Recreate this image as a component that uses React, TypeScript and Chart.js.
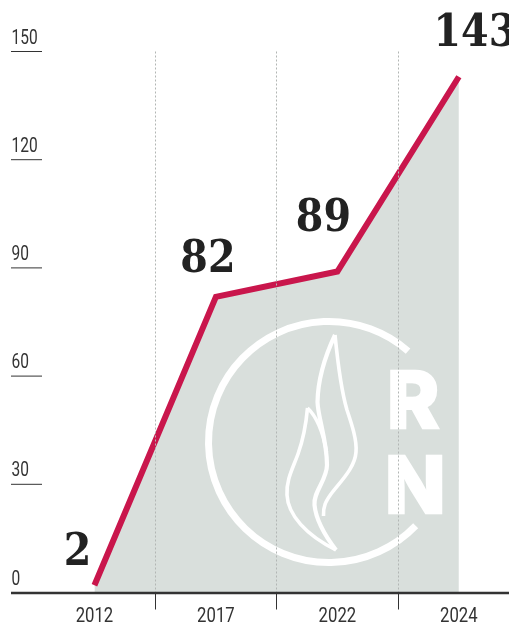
import React, { useEffect, useRef } from "react";
import { Chart, registerables } from "chart.js";

Chart.register(...registerables);

const years = ["2012", "2017", "2022", "2024"];
const seats = [2, 82, 89, 143];
const yTicks = [0, 30, 60, 90, 120, 150];

const INK = "#333333";
const labelShift = [
  [-17, -20],
  [-8, -25],
  [-14, -41],
  [16, -31],
];

const flame = (ctx: CanvasRenderingContext2D) => {
  ctx.strokeStyle = "#ffffff";
  ctx.fillStyle = "#ffffff";
  ctx.lineJoin = "miter";
  ctx.lineCap = "butt";
  ctx.lineWidth = 4.2;
  // tall flame
  ctx.beginPath();
  ctx.moveTo(335, 335);
  ctx.bezierCurveTo(327, 352, 318, 375, 317.5, 402);
  ctx.bezierCurveTo(318, 418, 327, 440, 327, 465);
  ctx.bezierCurveTo(327, 480, 313, 492, 314.5, 505);
  ctx.bezierCurveTo(316, 520, 326, 537, 336, 550);
  ctx.stroke();
  ctx.lineWidth = 3.6;
  ctx.beginPath();
  ctx.moveTo(335, 335);
  ctx.bezierCurveTo(338, 365, 341, 390, 347, 410);
  ctx.bezierCurveTo(352, 425, 357, 440, 356, 452);
  ctx.bezierCurveTo(355, 468, 340, 482, 331, 494);
  ctx.bezierCurveTo(326, 501, 323, 506, 323.5, 516);
  ctx.stroke();
  // small flame
  ctx.beginPath();
  ctx.moveTo(307.5, 408);
  ctx.bezierCurveTo(306, 425, 303, 440, 298, 454);
  ctx.bezierCurveTo(293, 468, 286, 480, 287, 495);
  ctx.bezierCurveTo(288, 515, 306, 535, 336, 550);
  ctx.stroke();
  ctx.beginPath();
  ctx.moveTo(307.5, 408);
  ctx.bezierCurveTo(316, 416, 323, 432, 326.5, 452);
  ctx.stroke();
  // circle
  ctx.lineWidth = 7;
  ctx.beginPath();
  ctx.arc(329, 442, 120.5, (44 * Math.PI) / 180, (311 * Math.PI) / 180);
  ctx.stroke();
  // letters
  ctx.font = "800 79px Inter";
  ctx.lineWidth = 2.4;
  ctx.textAlign = "left";
  ctx.textBaseline = "alphabetic";
  ctx.fillText("R", 387, 427.5);
  ctx.strokeText("R", 387, 427.5);
  ctx.fillText("N", 385, 512.5);
  ctx.strokeText("N", 385, 512.5);
};

const decor = {
  id: "decor",
  afterDatasetsDraw(chart: any) {
    const ctx = chart.ctx;
    ctx.save();
    flame(ctx);
    ctx.restore();
  },
  afterDraw(chart: any) {
    const ctx = chart.ctx;
    const y = chart.scales.y;
    const x = chart.scales.x;
    ctx.save();
    ctx.strokeStyle = INK;
    ctx.fillStyle = INK;
    ctx.textBaseline = "alphabetic";
    ctx.font = "400 20.4px Roboto";
    y.ticks.forEach((t: any) => {
      const py = y.getPixelForValue(t.value);
      ctx.beginPath();
      if (t.value === 0) {
        ctx.lineWidth = 2.6;
        ctx.moveTo(11, py + 0.5);
        ctx.lineTo(chart.width, py + 0.5);
      } else {
        ctx.lineWidth = 1;
        ctx.moveTo(11, py);
        ctx.lineTo(42, py);
      }
      ctx.stroke();
      ctx.save();
      ctx.translate(11.5, py - 8);
      ctx.scale(0.76, 1);
      ctx.textAlign = "left";
      ctx.fillText(String(t.value), 0, 0);
      ctx.restore();
    });
    x.ticks.forEach((t: any, i: number) => {
      ctx.save();
      ctx.translate(x.getPixelForTick(i), 621.5);
      ctx.scale(0.82, 1);
      ctx.textAlign = "center";
      ctx.fillText(String(years[i]), 0, 0);
      ctx.restore();
    });
    const meta = chart.getDatasetMeta(0);
    ctx.fillStyle = "#222222";
    ctx.font = "bold 45px 'DejaVu Serif'";
    ctx.textAlign = "center";
    meta.data.forEach((pt: any, i: number) => {
      ctx.save();
      ctx.translate(pt.x + labelShift[i][0], pt.y + labelShift[i][1]);
      ctx.scale(0.88, 1);
      ctx.fillText(String(seats[i]), 0, 0);
      ctx.restore();
    });
    ctx.restore();
  },
};

export default function App() {
  const ref = useRef<HTMLCanvasElement>(null);
  useEffect(() => {
    const chart = new Chart(ref.current!, {
      type: "line",
      data: {
        labels: years,
        datasets: [
          {
            data: seats,
            borderColor: "#c9164c",
            borderWidth: 6,
            borderCapStyle: "butt",
            borderJoinStyle: "miter",
            backgroundColor: "#d9dfdc",
            fill: "origin",
            pointRadius: 0,
            tension: 0,
            clip: false,
          },
        ],
      },
      options: {
        animation: false,
        responsive: false,
        devicePixelRatio: 1,
        layout: { padding: { left: 12, top: 51.5, right: 40.4, bottom: 0 } },
        plugins: { legend: { display: false }, tooltip: { enabled: false } },
        scales: {
          x: {
            type: "category",
            offset: true,
            border: { display: false, dash: [2, 2] },
            grid: {
              offset: true,
              z: 1,
              lineWidth: 1,
              color: (c: any) => (c.index === 0 ? "rgba(0,0,0,0)" : "#b2b6b4"),
              tickColor: (c: any) => (c.index === 0 ? "rgba(0,0,0,0)" : "#333333"),
              tickBorderDash: [],
              tickLength: 17,
            },
            ticks: { display: false },
            afterFit: (s: any) => {
              s.height = 29.5;
            },
          },
          y: {
            min: 0,
            max: 150,
            afterBuildTicks: (s: any) => {
              s.ticks = yTicks.map((value) => ({ value }));
            },
            border: { display: false },
            grid: { display: false },
            ticks: { display: false },
            afterFit: (s: any) => {
              s.width = 21.7;
            },
          },
        },
      },
      plugins: [decor],
    } as any);
    return () => chart.destroy();
  }, []);
  return (
    <div style={{ position: "absolute", left: 0, top: 0, width: 509, height: 622, overflow: "hidden", background: "#fff" }}>
      <canvas ref={ref} width={560} height={622} style={{ display: "block" }} />
    </div>
  );
}
